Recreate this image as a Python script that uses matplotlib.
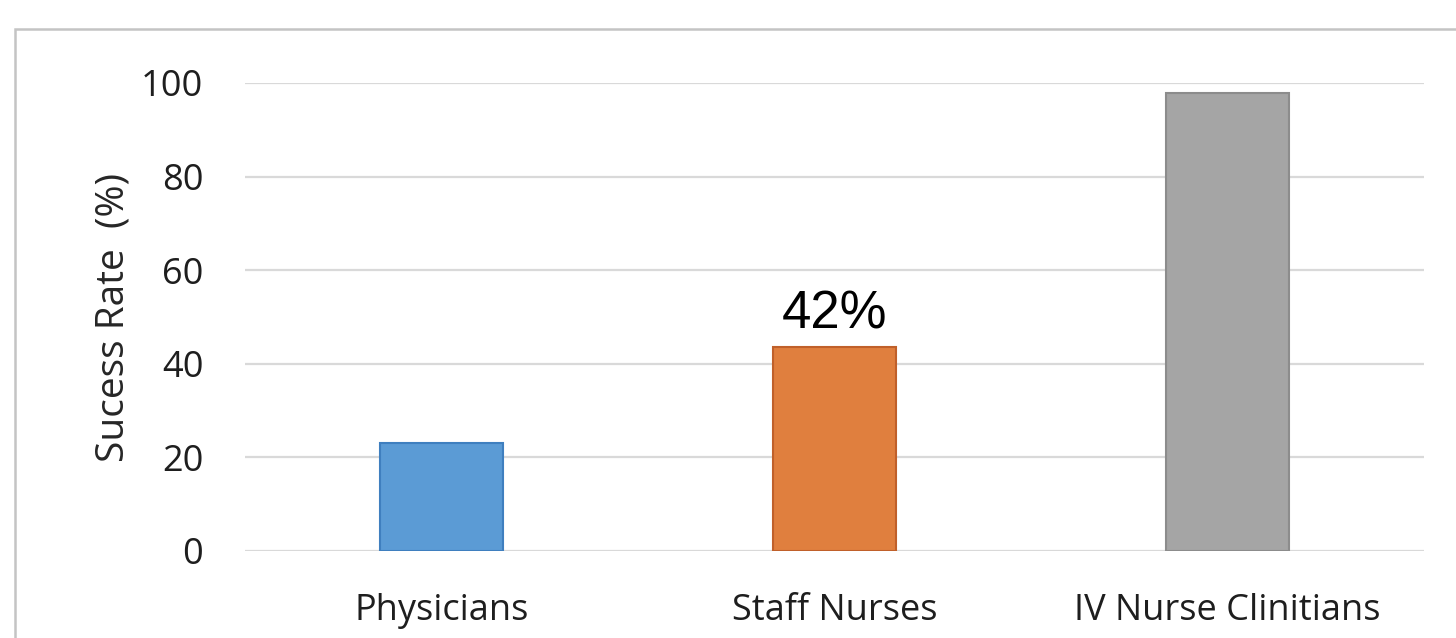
import matplotlib
matplotlib.use("Agg")
import matplotlib.pyplot as plt
from matplotlib.patches import Rectangle

categories = ["Physicians", "Staff Nurses", "IV Nurse Clinitians"]
values = [23.0, 43.6, 97.9]
value_labels = ["", "42%", ""]
colors = ["#5B9BD5", "#E07F3E", "#A5A5A5"]
edge_colors = ["#3F7FBF", "#C0602A", "#8C8C8C"]
yticks = [0, 20, 40, 60, 80, 100]

W, H = 1456, 638
fig = plt.figure(figsize=(W / 100, H / 100), dpi=100)
fig.patch.set_facecolor("white")

# outer chart border (extends beyond right/bottom edges)
fig.patches.append(Rectangle((15 / W, -0.2), 1.2, (H - 29) / H + 0.2,
                             transform=fig.transFigure, fill=False,
                             edgecolor="#C4C4C4", linewidth=1.8, zorder=0))

ax = fig.add_axes([245 / W, 87 / H, (1424 - 245) / W, (551 - 83) / H])
x = list(range(len(categories)))
ax.bar(x, values, width=0.315, color=colors, edgecolor=edge_colors,
       linewidth=1.5, zorder=3)
for xi, v, lab in zip(x, values, value_labels):
    if lab:
        ax.text(xi, v + 4.0, lab, ha="center", va="baseline",
                fontsize=38, family="Liberation Sans", color="black")

ax.set_xlim(-0.5, 2.5)
ax.set_ylim(0, 100)
ax.set_yticks(yticks)
ax.set_xticks(x)
ax.set_xticklabels(categories)
ax.grid(axis="y", color="#D9D9D9", linewidth=1.6, zorder=0)
ax.set_axisbelow(True)
for s in ["top", "right", "left", "bottom"]:
    ax.spines[s].set_visible(False)
ax.tick_params(axis="both", length=0, labelsize=26, colors="#1E1E1E")
ax.tick_params(axis="y", pad=30)
ax.tick_params(axis="x", pad=30)
for t in ax.get_xticklabels() + ax.get_yticklabels():
    t.set_family("Open Sans")
ax.set_ylabel("Sucess Rate  (%)", fontsize=28, family="Open Sans",
              color="#262626", labelpad=6)

fig.savefig("out.png", dpi=100)
